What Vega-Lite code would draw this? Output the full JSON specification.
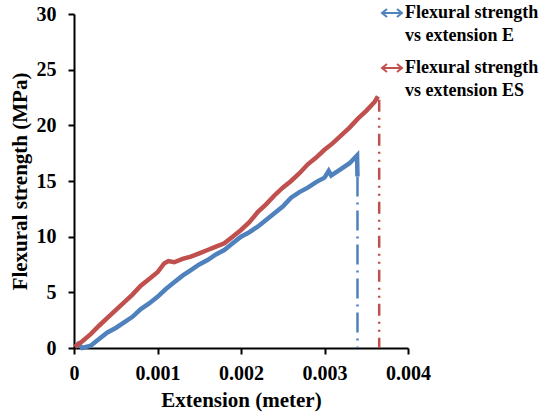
{
  "$schema": "https://vega.github.io/schema/vega-lite/v6.json",
  "width": 334,
  "height": 334,
  "autosize": {"type": "none"},
  "padding": {"left": 74, "top": 14, "right": 138, "bottom": 64},
  "background": "white",
  "config": {
    "view": {"stroke": null},
    "font": "Liberation Serif",
    "style": {"guide-label": {"lineHeight": 23}}
  },
  "datasets": {
    "curves": [
      {"s": "E", "x": 0.00003, "y": 0.5},
      {"s": "E", "x": 0.0001, "y": 0.0},
      {"s": "E", "x": 0.0002, "y": 0.2},
      {"s": "E", "x": 0.0003, "y": 0.8},
      {"s": "E", "x": 0.0004, "y": 1.4},
      {"s": "E", "x": 0.0005, "y": 1.8},
      {"s": "E", "x": 0.0006, "y": 2.3},
      {"s": "E", "x": 0.0007, "y": 2.8},
      {"s": "E", "x": 0.0008, "y": 3.5},
      {"s": "E", "x": 0.0009, "y": 4.0},
      {"s": "E", "x": 0.0010, "y": 4.6},
      {"s": "E", "x": 0.0011, "y": 5.3},
      {"s": "E", "x": 0.0012, "y": 5.9},
      {"s": "E", "x": 0.0013, "y": 6.5},
      {"s": "E", "x": 0.0014, "y": 7.0},
      {"s": "E", "x": 0.0015, "y": 7.5},
      {"s": "E", "x": 0.0016, "y": 7.9},
      {"s": "E", "x": 0.0017, "y": 8.4},
      {"s": "E", "x": 0.0018, "y": 8.8},
      {"s": "E", "x": 0.0019, "y": 9.4},
      {"s": "E", "x": 0.0020, "y": 10.0},
      {"s": "E", "x": 0.0021, "y": 10.4},
      {"s": "E", "x": 0.0022, "y": 10.9},
      {"s": "E", "x": 0.0023, "y": 11.5},
      {"s": "E", "x": 0.0024, "y": 12.1},
      {"s": "E", "x": 0.0025, "y": 12.7},
      {"s": "E", "x": 0.0026, "y": 13.5},
      {"s": "E", "x": 0.0027, "y": 14.0},
      {"s": "E", "x": 0.0028, "y": 14.4},
      {"s": "E", "x": 0.0029, "y": 14.9},
      {"s": "E", "x": 0.0030, "y": 15.3},
      {"s": "E", "x": 0.00305, "y": 15.9},
      {"s": "E", "x": 0.00308, "y": 15.5},
      {"s": "E", "x": 0.0031, "y": 15.6},
      {"s": "E", "x": 0.0032, "y": 16.1},
      {"s": "E", "x": 0.0033, "y": 16.6},
      {"s": "E", "x": 0.00339, "y": 17.3},
      {"s": "E", "x": 0.003395, "y": 15.4},
      {"s": "ES", "x": 0.00001, "y": 0.1},
      {"s": "ES", "x": 0.0001, "y": 0.6},
      {"s": "ES", "x": 0.0002, "y": 1.25},
      {"s": "ES", "x": 0.0003, "y": 2.0},
      {"s": "ES", "x": 0.0004, "y": 2.7},
      {"s": "ES", "x": 0.0005, "y": 3.4},
      {"s": "ES", "x": 0.0006, "y": 4.1},
      {"s": "ES", "x": 0.0007, "y": 4.8},
      {"s": "ES", "x": 0.0008, "y": 5.6},
      {"s": "ES", "x": 0.0009, "y": 6.2},
      {"s": "ES", "x": 0.0010, "y": 6.8},
      {"s": "ES", "x": 0.00108, "y": 7.6},
      {"s": "ES", "x": 0.00113, "y": 7.8},
      {"s": "ES", "x": 0.0012, "y": 7.7},
      {"s": "ES", "x": 0.0013, "y": 8.0},
      {"s": "ES", "x": 0.0014, "y": 8.2},
      {"s": "ES", "x": 0.0015, "y": 8.5},
      {"s": "ES", "x": 0.0016, "y": 8.8},
      {"s": "ES", "x": 0.0017, "y": 9.1},
      {"s": "ES", "x": 0.0018, "y": 9.4},
      {"s": "ES", "x": 0.0019, "y": 10.0},
      {"s": "ES", "x": 0.0020, "y": 10.6},
      {"s": "ES", "x": 0.0021, "y": 11.3},
      {"s": "ES", "x": 0.0022, "y": 12.2},
      {"s": "ES", "x": 0.0023, "y": 12.9},
      {"s": "ES", "x": 0.0024, "y": 13.7},
      {"s": "ES", "x": 0.0025, "y": 14.4},
      {"s": "ES", "x": 0.0026, "y": 15.0},
      {"s": "ES", "x": 0.0027, "y": 15.7},
      {"s": "ES", "x": 0.0028, "y": 16.5},
      {"s": "ES", "x": 0.0029, "y": 17.1},
      {"s": "ES", "x": 0.0030, "y": 17.8},
      {"s": "ES", "x": 0.0031, "y": 18.4},
      {"s": "ES", "x": 0.0032, "y": 19.1},
      {"s": "ES", "x": 0.0033, "y": 19.8},
      {"s": "ES", "x": 0.0034, "y": 20.6},
      {"s": "ES", "x": 0.0035, "y": 21.3},
      {"s": "ES", "x": 0.0036, "y": 22.1},
      {"s": "ES", "x": 0.00364, "y": 22.6}
    ],
    "drops": [
      {"s": "E", "x": 0.003395, "y": 15.4},
      {"s": "E", "x": 0.003395, "y": 0},
      {"s": "ES", "x": 0.003655, "y": 22.3},
      {"s": "ES", "x": 0.003655, "y": 0}
    ]
  },
  "encoding": {
    "x": {
      "field": "x", "type": "quantitative",
      "scale": {"domain": [0, 0.004], "nice": false, "zero": false},
      "axis": {
        "values": [0, 0.001, 0.002, 0.003, 0.004],
        "format": ".3~f",
        "title": "Extension (meter)",
        "grid": false,
        "domainColor": "black", "domainWidth": 2,
        "tickColor": "black", "tickWidth": 2, "tickSize": 6,
        "labelFont": "Liberation Serif", "labelFontWeight": "bold", "labelFontSize": 20, "labelColor": "black",
        "labelPadding": 9, "labelFlush": false,
        "titleFont": "Liberation Serif", "titleFontWeight": "bold", "titleFontSize": 21, "titleColor": "black",
        "titlePadding": 6
      }
    },
    "y": {
      "field": "y", "type": "quantitative",
      "scale": {"domain": [0, 30], "nice": false},
      "axis": {
        "values": [0, 5, 10, 15, 20, 25, 30],
        "title": "Flexural strength (MPa)",
        "grid": false,
        "domainColor": "black", "domainWidth": 2,
        "tickColor": "black", "tickWidth": 2, "tickSize": 6,
        "labelFont": "Liberation Serif", "labelFontWeight": "bold", "labelFontSize": 20, "labelColor": "black",
        "labelPadding": 12, "labelFlush": false,
        "titleFont": "Liberation Serif", "titleFontWeight": "bold", "titleFontSize": 21, "titleColor": "black",
        "titlePadding": 6
      }
    }
  },
  "layer": [
    {
      "data": {"name": "curves"},
      "mark": {"type": "line", "strokeWidth": 4.5, "interpolate": "linear"},
      "encoding": {
        "color": {
          "field": "s", "type": "nominal",
          "scale": {"domain": ["E", "ES"], "range": ["#4F81BD", "#C0504D"]},
          "legend": {
            "orient": "none",
            "legendX": 307,
            "legendY": -12,
            "title": null,
            "symbolType": "M-1,0H1M-0.5,-0.4L-1,0L-0.5,0.4M0.5,-0.4L1,0L0.5,0.4",
            "symbolSize": 400,
            "symbolStrokeWidth": 2,
            "symbolFillColor": "transparent",
            "labelExpr": "['Flexural strength', 'vs extension ' + datum.value]",
            "labelFont": "Liberation Serif", "labelFontWeight": "bold", "labelFontSize": 18, "labelColor": "black",
            "labelLimit": 300,
            "labelOffset": 2,
            "labelBaseline": "middle",
            "rowPadding": 12
          }
        }
      }
    },
    {
      "data": {"name": "drops"},
      "transform": [{"filter": "datum.s == 'E'"}],
      "mark": {"type": "line", "strokeWidth": 2.5, "strokeDash": [20, 6, 2, 6], "color": "#4F81BD"},
      "encoding": {}
    },
    {
      "data": {"name": "drops"},
      "transform": [{"filter": "datum.s == 'ES'"}],
      "mark": {"type": "line", "strokeWidth": 2.5, "strokeDash": [12, 6, 2, 6, 2, 6], "color": "#C0504D"},
      "encoding": {}
    }
  ]
}
